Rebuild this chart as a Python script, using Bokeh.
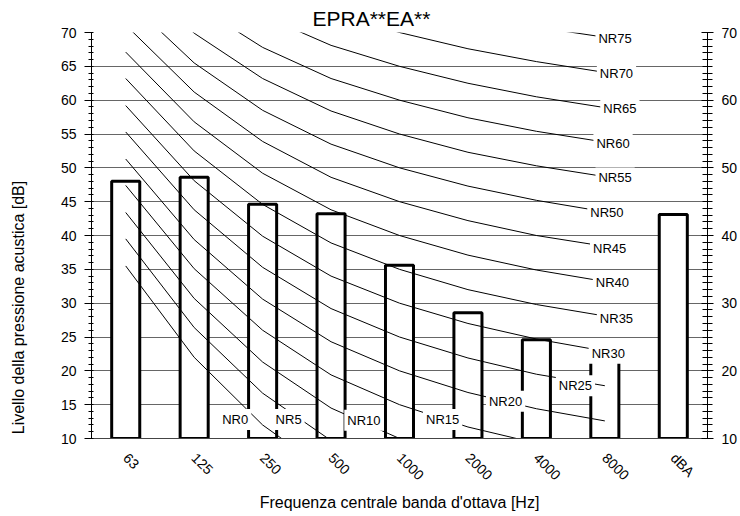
from math import pi

from bokeh.core.properties import value
from bokeh.embed import file_html
from bokeh.models import (ColumnDataSource, FactorRange, Label, LinearAxis,
                          Range1d, SingleIntervalTicker)
from bokeh.plotting import figure
from bokeh.resources import INLINE

FONT = "Liberation Sans"

# Octave bands and measured levels (dB)
bands = ["63", "125", "250", "500", "1000", "2000", "4000", "8000", "dBA"]
levels = [48.0, 48.6, 44.6, 43.2, 35.6, 28.6, 24.6, 21.5, 43.1]

# Noise Rating curves, level per octave band 63 Hz .. 8 kHz
nr_bands = bands[:8]
nr_names = ["NR0", "NR5", "NR10", "NR15", "NR20", "NR25", "NR30", "NR35",
            "NR40", "NR45", "NR50", "NR55", "NR60", "NR65", "NR70", "NR75"]
nr_curves = [
    [35.5, 22.0, 12.0, 4.8, 0.0, -3.5, -6.1, -8.0],
    [39.5, 26.4, 16.7, 9.7, 5.0, 1.6, -1.0, -2.9],
    [43.4, 30.7, 21.3, 14.5, 10.0, 6.7, 4.2, 2.3],
    [47.4, 35.1, 26.0, 19.4, 15.0, 11.7, 9.3, 7.5],
    [51.3, 39.4, 30.6, 24.3, 20.0, 16.8, 14.4, 12.6],
    [55.3, 43.8, 35.3, 29.2, 25.0, 21.9, 19.5, 17.8],
    [59.2, 48.1, 39.9, 34.0, 30.0, 27.0, 24.7, 22.9],
    [63.2, 52.5, 44.6, 38.9, 35.0, 32.0, 29.8, 28.1],
    [67.1, 56.8, 49.2, 43.8, 40.0, 37.1, 34.9, 33.2],
    [71.1, 61.2, 53.9, 48.6, 45.0, 42.2, 40.0, 38.4],
    [75.0, 65.5, 58.5, 53.5, 50.0, 47.3, 45.2, 43.5],
    [79.0, 69.9, 63.2, 58.4, 55.0, 52.3, 50.3, 48.7],
    [82.9, 74.2, 67.8, 63.2, 60.0, 57.4, 55.4, 53.8],
    [86.9, 78.6, 72.5, 68.1, 65.0, 62.5, 60.5, 58.9],
    [90.8, 82.9, 77.1, 73.0, 70.0, 67.6, 65.7, 64.1],
    [94.8, 87.3, 81.8, 77.9, 75.0, 72.6, 70.8, 69.3],
]

# Where each curve name sits (band axis position, dB)
nr_label_x = [2.10, 2.88, 3.98, 5.13, 6.05, 7.07, 7.55, 7.67,
              7.61, 7.57, 7.53, 7.65, 7.62, 7.72, 7.67, 7.65]
nr_label_y = [12.8, 12.8, 12.7, 12.8, 15.5, 17.8, 22.6, 27.8,
              33.0, 38.1, 43.4, 48.5, 53.6, 58.8, 64.0, 69.1]

p = figure(
    width=740, height=516,
    x_range=FactorRange(*bands), y_range=Range1d(10, 70),
    output_backend="svg", toolbar_location=None,
    min_border_left=91, min_border_right=31,
    min_border_top=32, min_border_bottom=78,
    title="EPRA**EA**",
)
p.outline_line_color = None
p.background_fill_color = "white"

p.title.align = "left"
p.title.offset = 221
p.title.text_font = FONT
p.title.text_font_size = "21px"
p.title.text_font_style = "normal"
p.title.text_color = "black"
p.title.standoff = 6

# horizontal grid every 5 dB
p.xgrid.visible = False
p.ygrid.ticker = SingleIntervalTicker(interval=5)
p.ygrid.grid_line_color = "#666666"
p.ygrid.grid_line_width = 1

# left axis
yl = p.yaxis[0]
yl.ticker = SingleIntervalTicker(interval=5, num_minor_ticks=5)
yl.axis_line_color = "black"
yl.major_tick_line_color = "black"
yl.minor_tick_line_color = "black"
yl.major_tick_out = 7
yl.major_tick_in = 0
yl.minor_tick_out = 3
yl.minor_tick_in = 2
yl.major_label_standoff = 8
yl.major_label_text_font = FONT
yl.major_label_text_font_size = "14px"
yl.major_label_text_color = "black"

# right axis
yr = LinearAxis(ticker=SingleIntervalTicker(interval=10, num_minor_ticks=10))
yr.axis_line_color = "black"
yr.major_tick_line_color = "black"
yr.minor_tick_line_color = "black"
yr.major_tick_out = 6
yr.major_tick_in = 6
yr.minor_tick_out = 5
yr.minor_tick_in = 5
yr.major_label_standoff = 8
yr.major_label_text_font = FONT
yr.major_label_text_font_size = "14px"
yr.major_label_text_color = "black"
p.add_layout(yr, "right")

# bottom axis
xa = p.xaxis[0]
xa.axis_line_color = "#444444"
xa.major_tick_line_color = None
xa.minor_tick_line_color = None
xa.major_label_orientation = -pi / 4
xa.major_label_standoff = 11
xa.major_label_text_font = FONT
xa.major_label_text_font_size = "14px"
xa.major_label_text_color = "black"
xa.axis_label = "Frequenza centrale banda d'ottava [Hz]"
xa.axis_label_text_font = FONT
xa.axis_label_text_font_size = "16px"
xa.axis_label_text_font_style = "normal"
xa.axis_label_text_color = "black"
xa.axis_label_standoff = 2

# vertical axis title, placed in the left side panel
p.add_layout(Label(
    x=-22, y=131, x_units="screen", y_units="screen",
    text="Livello della pressione acustica [dB]", angle=pi / 2,
    text_align="center", text_baseline="middle",
    text_font=FONT, text_font_size="16px", text_color="black",
), "left")

# bars
p.vbar(x=bands, top=levels, bottom=10, width=0.41,
       fill_color="white", line_color="black", line_width=3)

# NR curves
p.multi_line(xs=[nr_bands] * len(nr_curves), ys=nr_curves,
             line_color="black", line_width=1)

# curve names on white boxes
lab_src = ColumnDataSource(dict(x=nr_label_x, y=nr_label_y, text=nr_names))
p.text(x="x", y="y", text="text", source=lab_src,
       text_font=value(FONT), text_font_size="13px", text_color="black",
       text_align="center", text_baseline="middle",
       background_fill_color="white", padding=3)

open("out.html", "w").write(file_html(p, INLINE))
